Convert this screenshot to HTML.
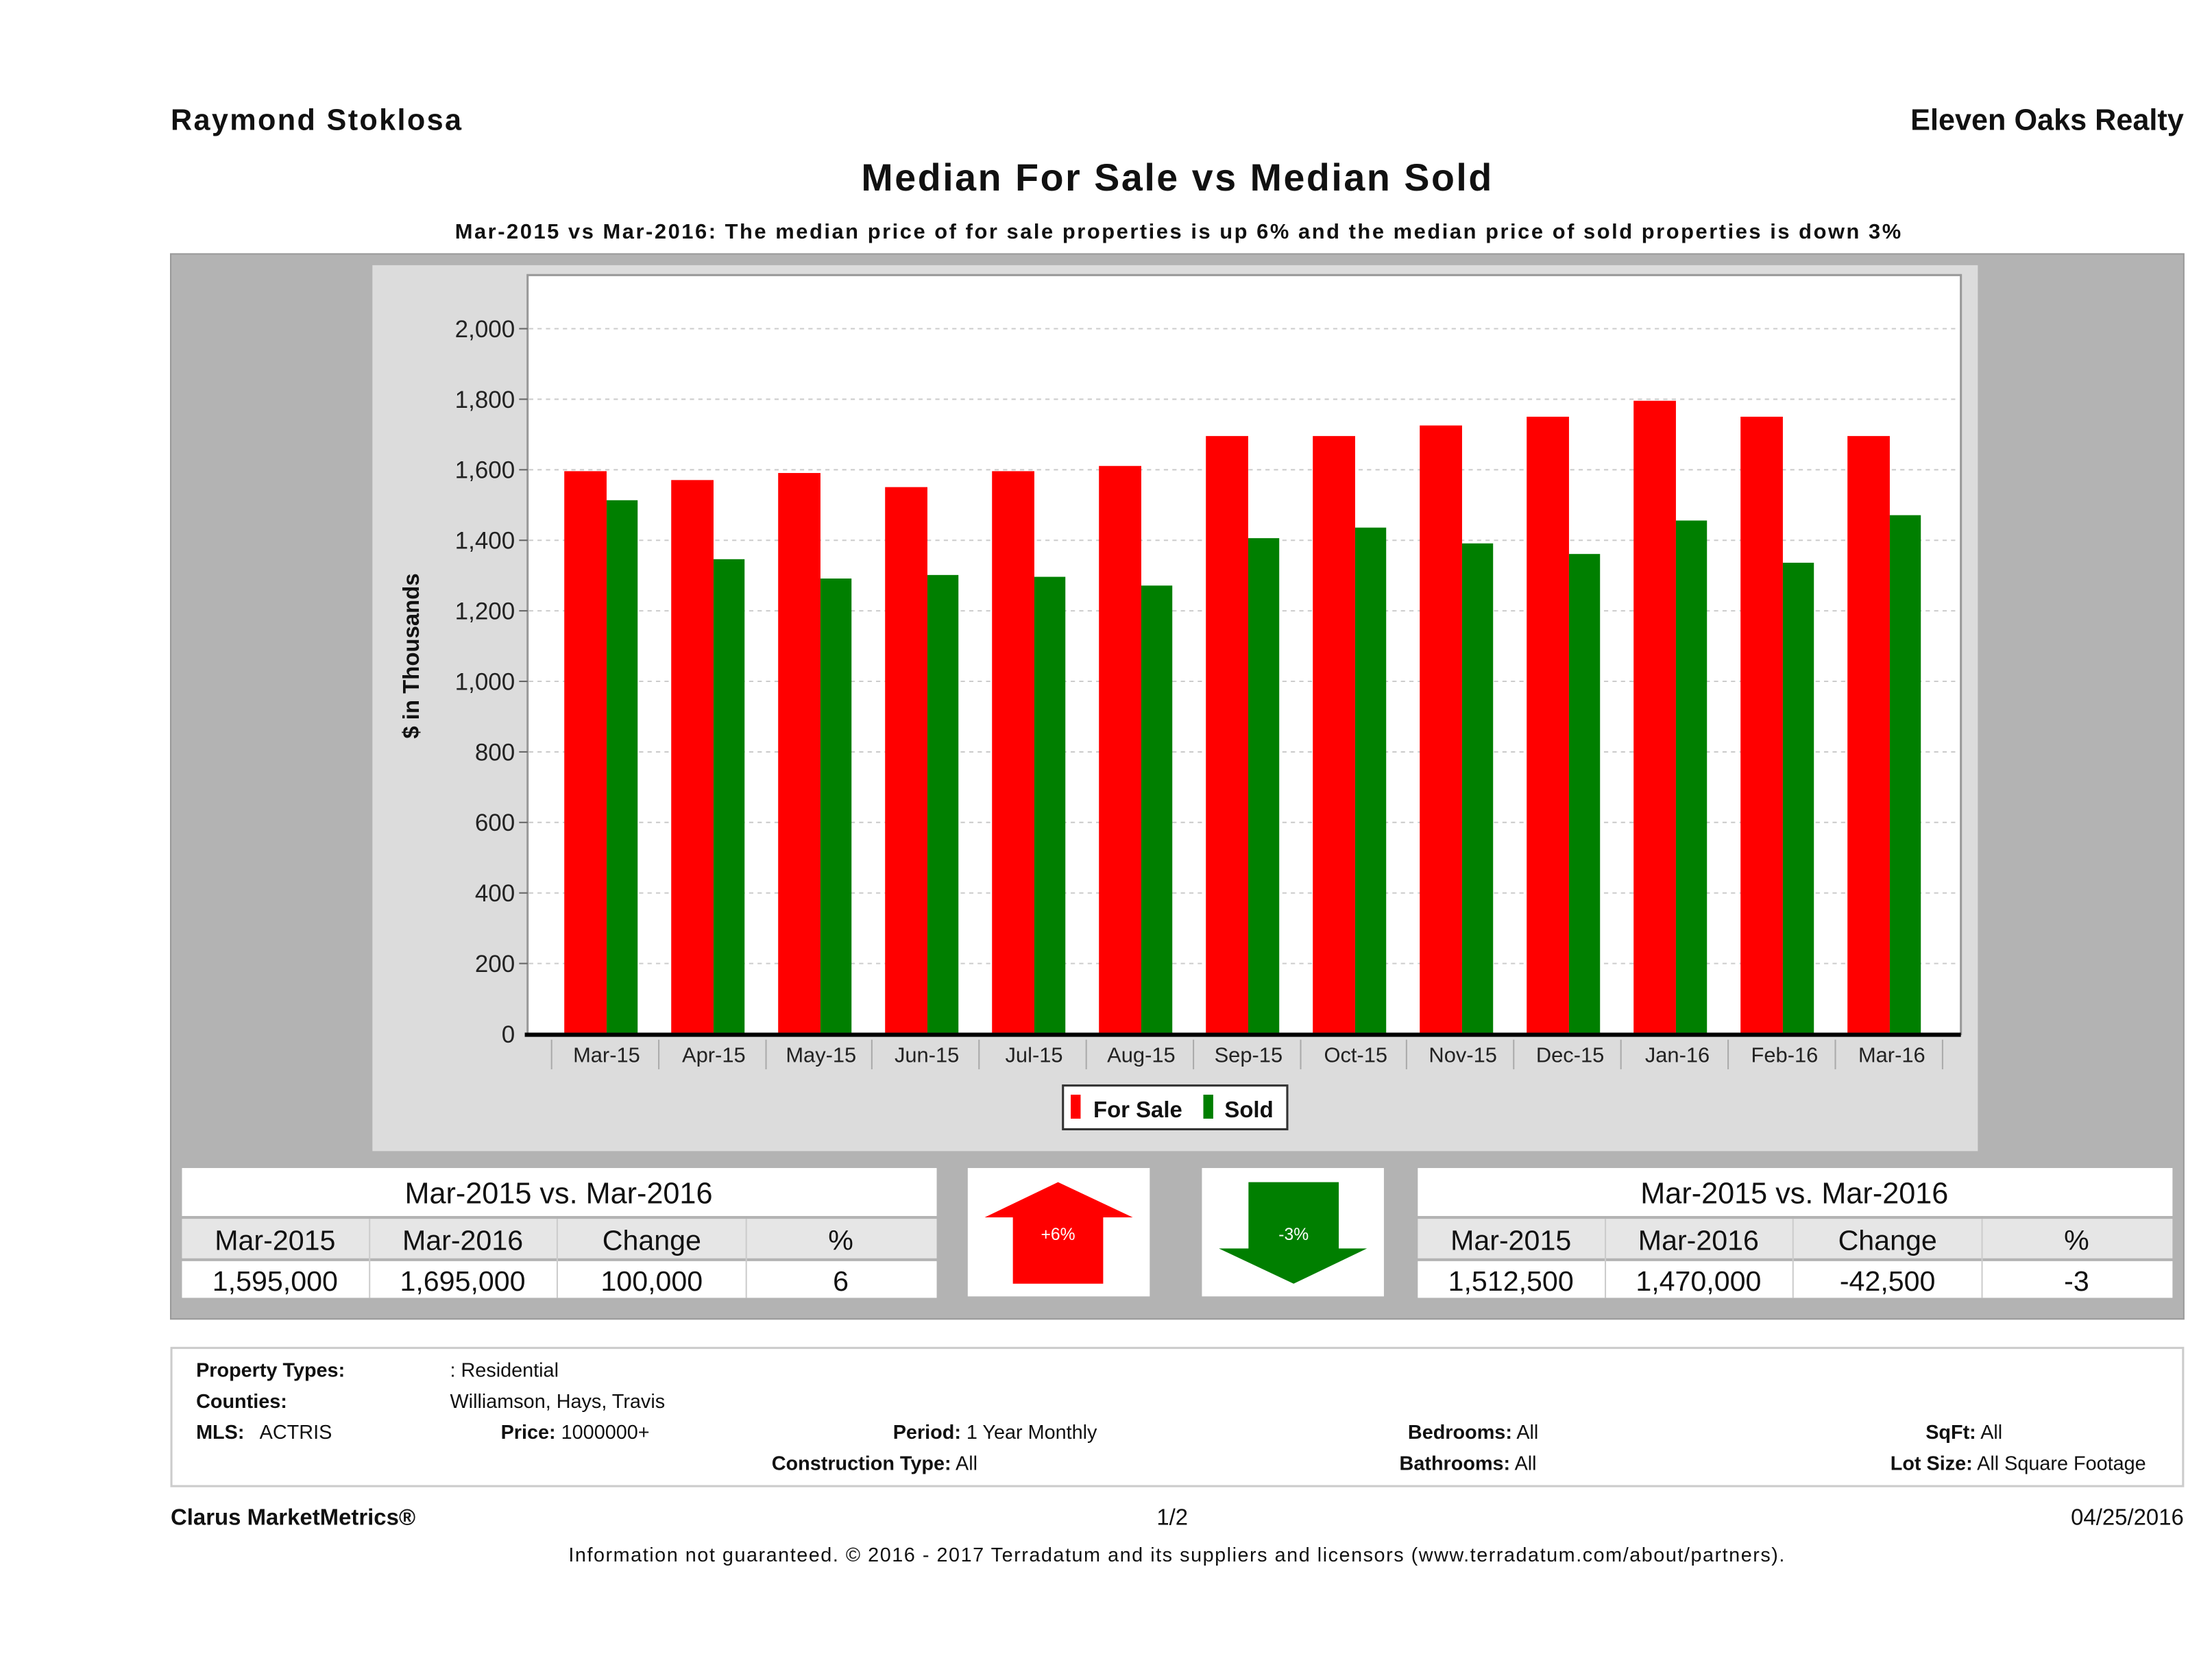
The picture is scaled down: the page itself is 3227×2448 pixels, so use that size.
<!DOCTYPE html>
<html><head><meta charset="utf-8"><style>
html,body{margin:0;padding:0;background:#fff;}
svg{display:block;}
text{font-family:"Liberation Sans",sans-serif;}
</style></head><body>
<svg width="3227" height="2448" viewBox="0 0 1568 1189.5" preserveAspectRatio="none" xmlns="http://www.w3.org/2000/svg">
<rect width="1568" height="1190" fill="#fff"/>
<text x="121" y="92" font-size="21" font-weight="bold" fill="#111" textLength="206">Raymond Stoklosa</text>
<text x="1548" y="92" font-size="21" font-weight="bold" fill="#111" text-anchor="end">Eleven Oaks Realty</text>
<text x="834" y="135" font-size="27" font-weight="bold" fill="#111" text-anchor="middle" textLength="447">Median For Sale vs Median Sold</text>
<text x="835" y="169" font-size="15" font-weight="bold" fill="#111" text-anchor="middle" textLength="1025">Mar-2015 vs Mar-2016: The median price of for sale properties is up 6% and the median price of sold properties is down 3%</text>

<rect x="121" y="180" width="1427" height="755" fill="#b3b3b3" stroke="#999" stroke-width="1"/>
<rect x="264" y="188" width="1138" height="628" fill="#dcdcdc"/>
<rect x="374" y="195" width="1016" height="538" fill="#fff" stroke="#999" stroke-width="1.5"/>
<g stroke="#ccc" stroke-dasharray="3,3" stroke-width="1">
<line x1="375" x2="1389" y1="233" y2="233"/><line x1="375" x2="1389" y1="283" y2="283"/>
<line x1="375" x2="1389" y1="333" y2="333"/><line x1="375" x2="1389" y1="383" y2="383"/>
<line x1="375" x2="1389" y1="433" y2="433"/><line x1="375" x2="1389" y1="483" y2="483"/>
<line x1="375" x2="1389" y1="533" y2="533"/><line x1="375" x2="1389" y1="583" y2="583"/>
<line x1="375" x2="1389" y1="633" y2="633"/><line x1="375" x2="1389" y1="683" y2="683"/>
</g>
<g font-size="17" fill="#222" text-anchor="end">
<text x="365" y="239">2,000</text><text x="365" y="289">1,800</text><text x="365" y="339">1,600</text>
<text x="365" y="389">1,400</text><text x="365" y="439">1,200</text><text x="365" y="489">1,000</text>
<text x="365" y="539">800</text><text x="365" y="589">600</text><text x="365" y="639">400</text>
<text x="365" y="689">200</text><text x="365" y="739">0</text>
</g>
<g stroke="#666"><line x1="368" x2="374" y1="233" y2="233"/><line x1="368" x2="374" y1="283" y2="283"/><line x1="368" x2="374" y1="333" y2="333"/><line x1="368" x2="374" y1="383" y2="383"/><line x1="368" x2="374" y1="433" y2="433"/><line x1="368" x2="374" y1="483" y2="483"/><line x1="368" x2="374" y1="533" y2="533"/><line x1="368" x2="374" y1="583" y2="583"/><line x1="368" x2="374" y1="633" y2="633"/><line x1="368" x2="374" y1="683" y2="683"/></g>
<text transform="translate(297,465) rotate(-90)" font-size="16" font-weight="bold" fill="#111" text-anchor="middle">$ in Thousands</text>

<g fill="#ff0000">
<rect x="400" y="334" width="30" height="398"/>
<rect x="475.8" y="340.3" width="30" height="391.7"/>
<rect x="551.6" y="335.3" width="30" height="396.7"/>
<rect x="627.4" y="345.3" width="30" height="386.7"/>
<rect x="703.2" y="334" width="30" height="398"/>
<rect x="779" y="330.3" width="30" height="401.7"/>
<rect x="854.8" y="309.1" width="30" height="422.9"/>
<rect x="930.6" y="309.1" width="30" height="422.9"/>
<rect x="1006.4" y="301.6" width="30" height="430.4"/>
<rect x="1082.2" y="295.4" width="30" height="436.6"/>
<rect x="1158" y="284.1" width="30" height="447.9"/>
<rect x="1233.8" y="295.4" width="30" height="436.6"/>
<rect x="1309.6" y="309.1" width="30" height="422.9"/>
</g>
<g fill="#007f00">
<rect x="430" y="354.6" width="22" height="377.4"/>
<rect x="505.8" y="396.4" width="22" height="335.6"/>
<rect x="581.6" y="410.1" width="22" height="321.9"/>
<rect x="657.4" y="407.6" width="22" height="324.4"/>
<rect x="733.2" y="408.9" width="22" height="323.1"/>
<rect x="809" y="415.1" width="22" height="316.9"/>
<rect x="884.8" y="381.5" width="22" height="350.5"/>
<rect x="960.6" y="374" width="22" height="358"/>
<rect x="1036.4" y="385.2" width="22" height="346.8"/>
<rect x="1112.2" y="392.7" width="22" height="339.3"/>
<rect x="1188" y="369" width="22" height="363"/>
<rect x="1263.8" y="398.9" width="22" height="333.1"/>
<rect x="1339.6" y="365.2" width="22" height="366.8"/>
</g>
<line x1="372" x2="1390" y1="733.5" y2="733.5" stroke="#000" stroke-width="3"/>
<g stroke="#aaa" stroke-width="1">
<line x1="391" x2="391" y1="737" y2="758"/><line x1="467" x2="467" y1="737" y2="758"/><line x1="543" x2="543" y1="737" y2="758"/><line x1="618" x2="618" y1="737" y2="758"/><line x1="694" x2="694" y1="737" y2="758"/><line x1="770" x2="770" y1="737" y2="758"/><line x1="846" x2="846" y1="737" y2="758"/><line x1="922" x2="922" y1="737" y2="758"/><line x1="997" x2="997" y1="737" y2="758"/><line x1="1073" x2="1073" y1="737" y2="758"/><line x1="1149" x2="1149" y1="737" y2="758"/><line x1="1225" x2="1225" y1="737" y2="758"/><line x1="1301" x2="1301" y1="737" y2="758"/><line x1="1377" x2="1377" y1="737" y2="758"/>
</g>
<g font-size="15" fill="#222" text-anchor="middle">
<text x="430" y="753">Mar-15</text><text x="506" y="753">Apr-15</text><text x="582" y="753">May-15</text>
<text x="657" y="753">Jun-15</text><text x="733" y="753">Jul-15</text><text x="809" y="753">Aug-15</text>
<text x="885" y="753">Sep-15</text><text x="961" y="753">Oct-15</text><text x="1037" y="753">Nov-15</text>
<text x="1113" y="753">Dec-15</text><text x="1189" y="753">Jan-16</text><text x="1265" y="753">Feb-16</text>
<text x="1341" y="753">Mar-16</text>
</g>
<rect x="753.5" y="769.5" width="159" height="31" fill="#fff" stroke="#333" stroke-width="1.5"/>
<rect x="759" y="776" width="7" height="17" fill="#f00"/>
<text x="775" y="792" font-size="16" font-weight="bold" fill="#111">For Sale</text>
<rect x="853" y="776" width="7" height="17" fill="#007f00"/>
<text x="868" y="792" font-size="16" font-weight="bold" fill="#111">Sold</text>

<!-- left table -->
<rect x="129" y="828" width="535" height="34" fill="#fff"/>
<rect x="129" y="864" width="535" height="28" fill="#e6e6e6"/>
<rect x="129" y="894" width="535" height="26" fill="#fff"/>
<text x="396" y="853" font-size="21" fill="#111" text-anchor="middle">Mar-2015 vs. Mar-2016</text>
<g font-size="20" fill="#111" text-anchor="middle">
<text x="195" y="886">Mar-2015</text><text x="328" y="886">Mar-2016</text><text x="462" y="886">Change</text><text x="596" y="886">%</text>
<text x="195" y="915">1,595,000</text><text x="328" y="915">1,695,000</text><text x="462" y="915">100,000</text><text x="596" y="915">6</text>
</g>
<g stroke="#ccc"><line x1="262" x2="262" y1="864" y2="920"/><line x1="395" x2="395" y1="864" y2="920"/><line x1="529" x2="529" y1="864" y2="920"/></g>

<rect x="686" y="828" width="129" height="91" fill="#fff"/>
<polygon points="750,838 803,863 782,863 782,910 718,910 718,863 698,863" fill="#f00"/>
<text x="750" y="879" font-size="12" fill="#fff" text-anchor="middle">+6%</text>
<rect x="852" y="828" width="129" height="91" fill="#fff"/>
<polygon points="885,838 949,838 949,885 969,885 917,910 864,885 885,885" fill="#007f00"/>
<text x="917" y="879" font-size="12" fill="#fff" text-anchor="middle">-3%</text>

<!-- right table -->
<rect x="1005" y="828" width="535" height="34" fill="#fff"/>
<rect x="1005" y="864" width="535" height="28" fill="#e6e6e6"/>
<rect x="1005" y="894" width="535" height="26" fill="#fff"/>
<text x="1272" y="853" font-size="21" fill="#111" text-anchor="middle">Mar-2015 vs. Mar-2016</text>
<g font-size="20" fill="#111" text-anchor="middle">
<text x="1071" y="886">Mar-2015</text><text x="1204" y="886">Mar-2016</text><text x="1338" y="886">Change</text><text x="1472" y="886">%</text>
<text x="1071" y="915">1,512,500</text><text x="1204" y="915">1,470,000</text><text x="1338" y="915">-42,500</text><text x="1472" y="915">-3</text>
</g>
<g stroke="#ccc"><line x1="1138" x2="1138" y1="864" y2="920"/><line x1="1271" x2="1271" y1="864" y2="920"/><line x1="1405" x2="1405" y1="864" y2="920"/></g>

<!-- footer box -->
<rect x="121.5" y="955.5" width="1426" height="98" fill="#fff" stroke="#ccc" stroke-width="1.5"/>
<g font-size="14" fill="#111">
<text x="139" y="976" font-weight="bold">Property Types:</text><text x="319" y="976">: Residential</text>
<text x="139" y="998" font-weight="bold">Counties:</text><text x="319" y="998">Williamson, Hays, Travis</text>
<text x="139" y="1020" font-weight="bold">MLS:</text><text x="184" y="1020">ACTRIS</text>
<text x="355" y="1020"><tspan font-weight="bold">Price:</tspan> 1000000+</text>
<text x="633" y="1020"><tspan font-weight="bold">Period:</tspan> 1 Year Monthly</text>
<text x="547" y="1042"><tspan font-weight="bold">Construction Type:</tspan> All</text>
<text x="998" y="1020"><tspan font-weight="bold">Bedrooms:</tspan> All</text>
<text x="992" y="1042"><tspan font-weight="bold">Bathrooms:</tspan> All</text>
<text x="1365" y="1020"><tspan font-weight="bold">SqFt:</tspan> All</text>
<text x="1340" y="1042"><tspan font-weight="bold">Lot Size:</tspan> All Square Footage</text>
</g>
<text x="121" y="1081" font-size="16" font-weight="bold" fill="#111">Clarus MarketMetrics®</text>
<text x="831" y="1081" font-size="16" fill="#111" text-anchor="middle">1/2</text>
<text x="1548" y="1081" font-size="16" fill="#111" text-anchor="end">04/25/2016</text>
<text x="834" y="1107" font-size="14" fill="#111" text-anchor="middle" textLength="862">Information not guaranteed. © 2016 - 2017 Terradatum and its suppliers and licensors (www.terradatum.com/about/partners).</text>
</svg>
</body></html>
